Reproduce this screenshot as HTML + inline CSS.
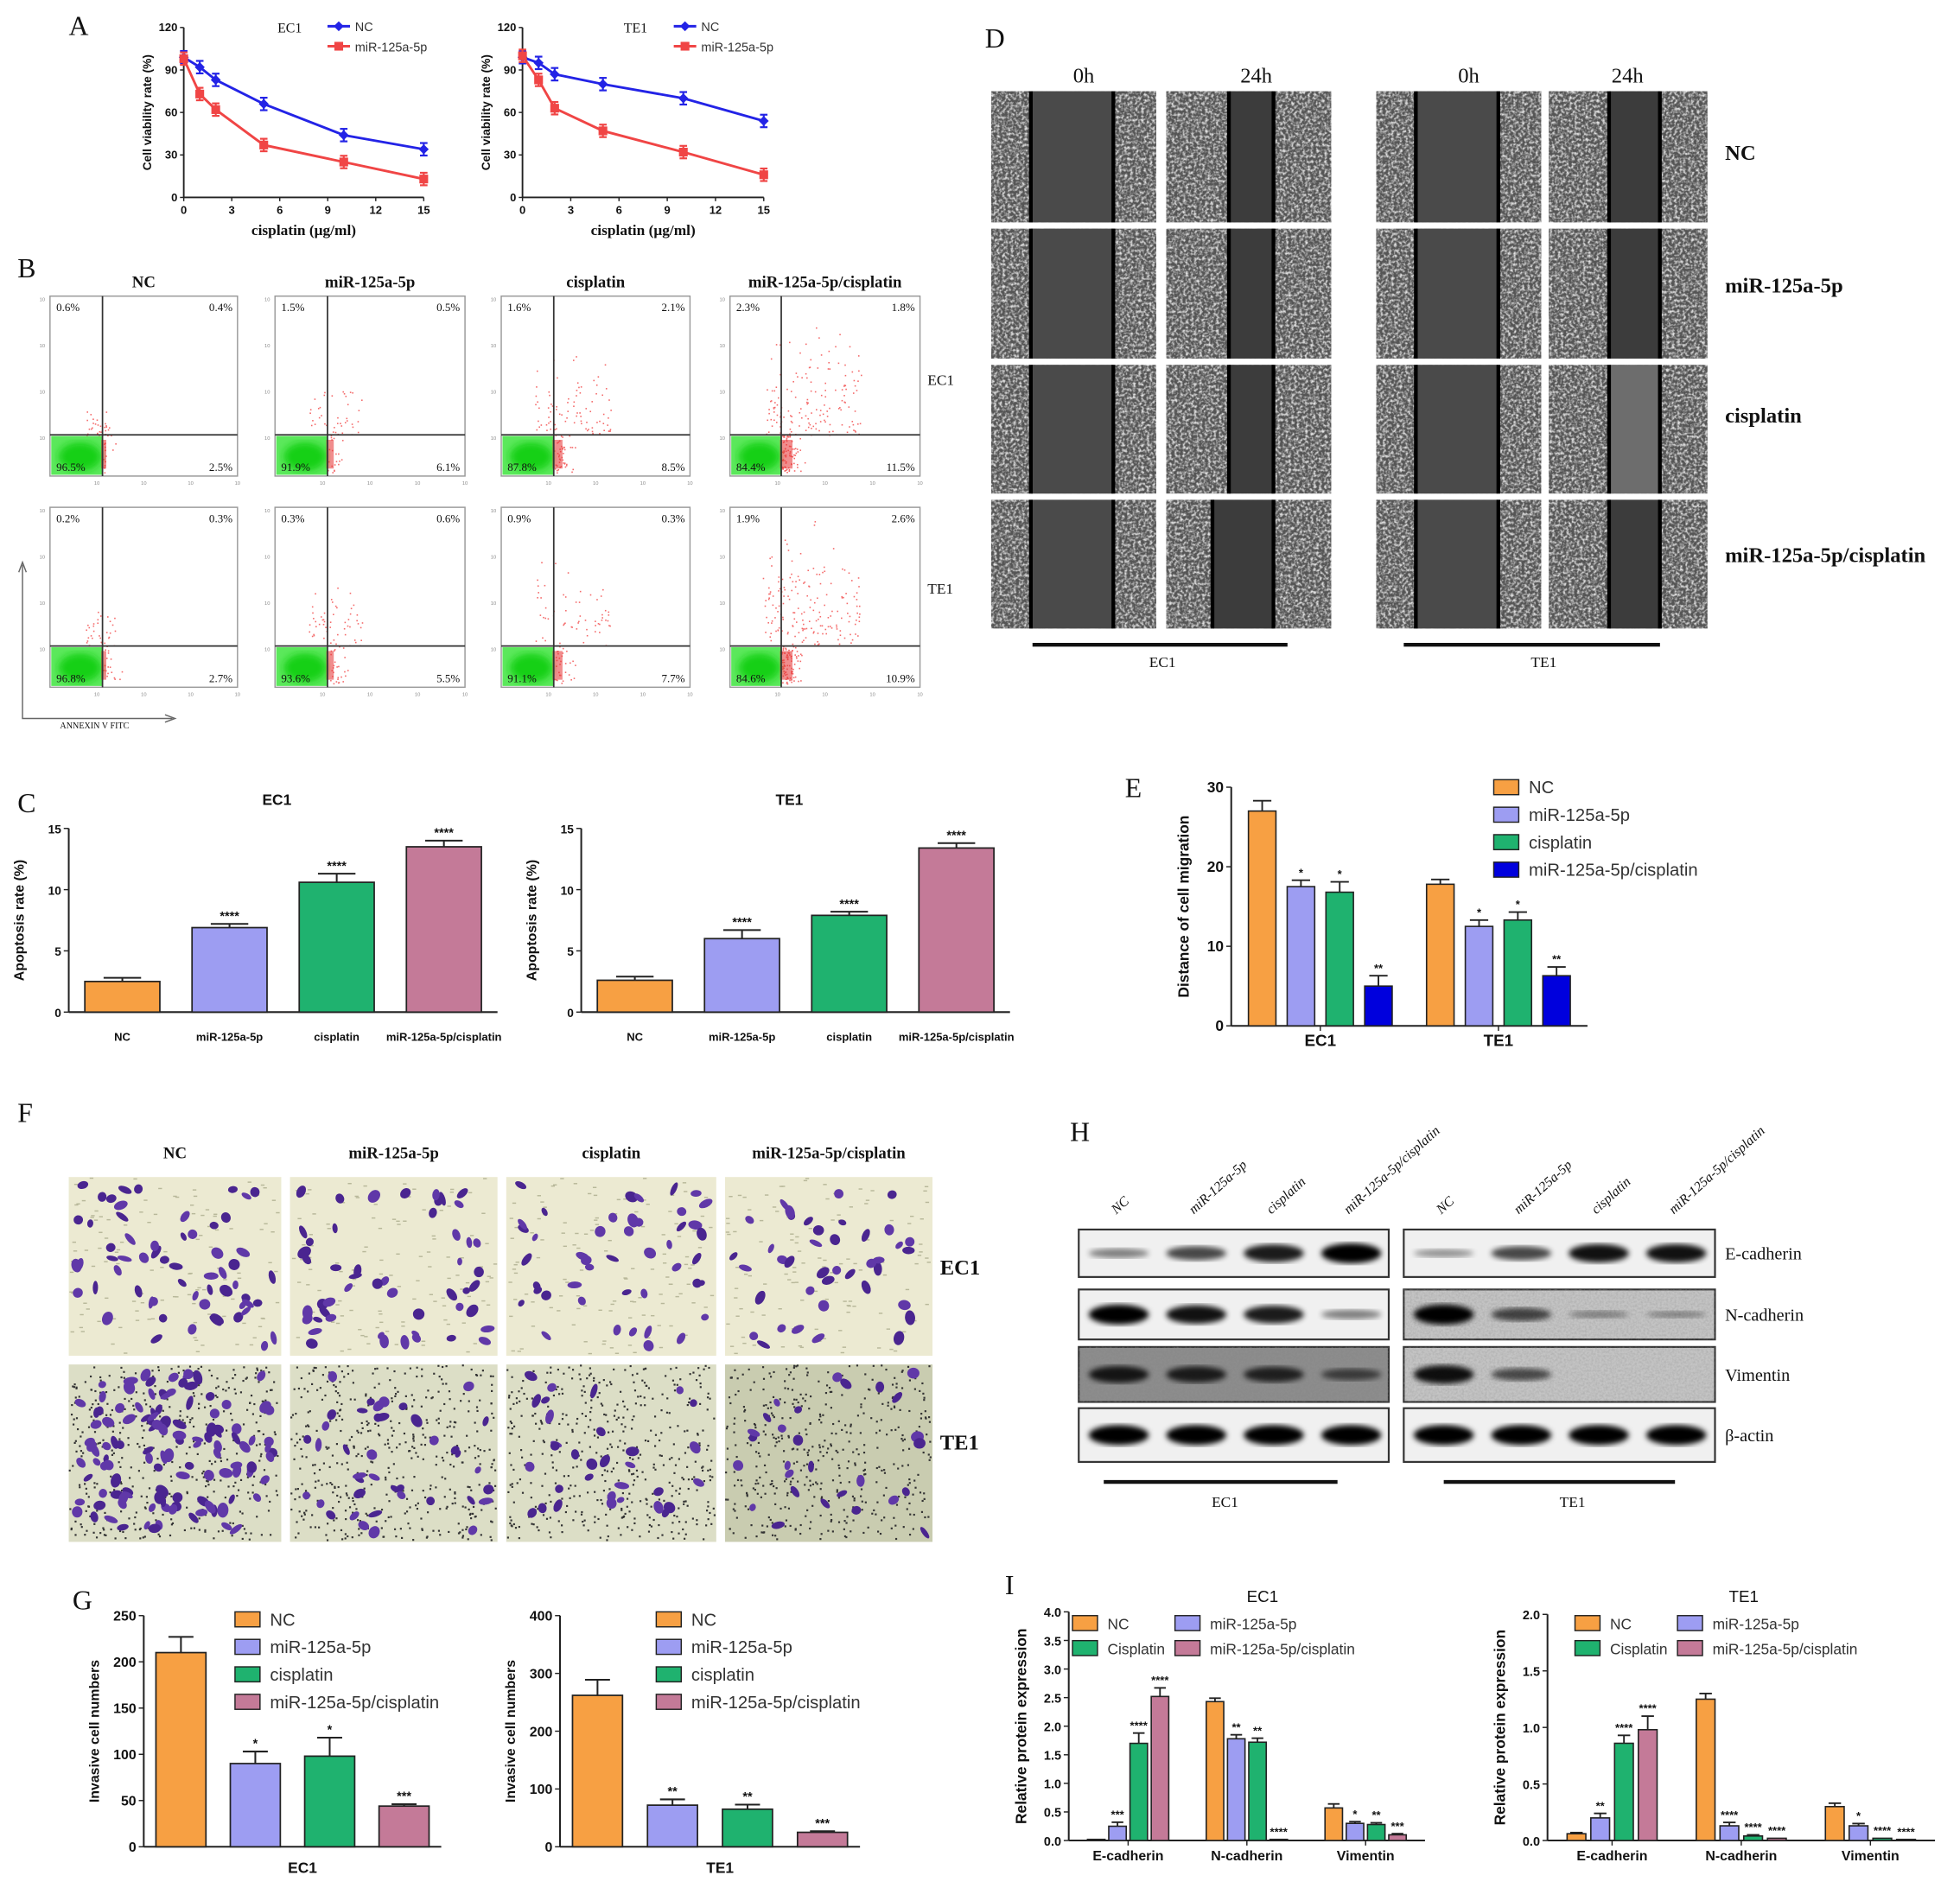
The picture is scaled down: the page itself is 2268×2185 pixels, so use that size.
<!DOCTYPE html>
<html><head><meta charset="utf-8">
<style>
html,body{margin:0;padding:0;background:#fff;}
svg{display:block;}
text{font-family:"Liberation Sans",sans-serif;}
.serif{font-family:"Liberation Serif",serif;}
</style></head>
<body>
<svg id="fig" xmlns="http://www.w3.org/2000/svg" width="2268" height="2185" viewBox="0 0 1568 1511" preserveAspectRatio="none">
<defs>
<filter id="scratchTex" x="0" y="0" width="100%" height="100%">
<feTurbulence type="fractalNoise" baseFrequency="0.45" numOctaves="2" seed="3"/>
<feColorMatrix type="matrix" values="0 0 0 0 0.75  0 0 0 0 0.75  0 0 0 0 0.75  0 0 -2.6 0 1.55"/>
</filter>
<filter id="blotNoise" x="0" y="0" width="100%" height="100%">
<feTurbulence type="fractalNoise" baseFrequency="0.6" numOctaves="2" seed="7"/>
<feColorMatrix type="matrix" values="0 0 0 0 0.3  0 0 0 0 0.3  0 0 0 0 0.3  0 0 -1.5 0 1.0"/>
</filter>
<filter id="blur1"><feGaussianBlur stdDeviation="2.2"/></filter>
<filter id="blur2"><feGaussianBlur stdDeviation="3"/></filter>
</defs>
</svg>
<script>
// ---------- DATA ----------
const doseX = [0,1,2,5,10,15];
const aTicksX = [0,3,6,9,12,15];
const aTicksY = [0,30,60,90,120];
const ec1NC = [99,92,83,66,44,34];
const ec1Mir = [98,73,62,37,25,13];
const te1NC = [99,95,87,80,70,54];
const te1Mir = [100,83,63,47,32,16];

const groups4 = ['NC','miR-125a-5p','cisplatin','miR-125a-5p/cisplatin'];
const cEC1 = [2.5,6.9,10.6,13.5];
const cEC1err = [0.3,0.3,0.7,0.5];
const cTE1 = [2.6,6.0,7.9,13.4];
const cTE1err = [0.3,0.7,0.3,0.4];
const cTicks = [0,5,10,15];
const cStars = ['','****','****','****'];

const eCats = ['EC1','TE1'];
const eNC = [27,17.8];
const eMir = [17.5,12.5];
const eCis = [16.8,13.3];
const eCombo = [5,6.3];
const eErr = [[1.3,0.6],[0.8,0.8],[1.3,1.0],[1.3,1.1]];
const eStars = [['',''],['*','*'],['*','*'],['**','**']];
const eTicks = [0,10,20,30];

const gEC1 = [210,90,98,44];
const gEC1err = [17,13,20,2];
const gEC1stars = ['','*','*','***'];
const gEC1ticks = [0,50,100,150,200,250];
const gTE1 = [262,72,65,25];
const gTE1err = [27,10,8,2];
const gTE1stars = ['','**','**','***'];
const gTE1ticks = [0,100,200,300,400];

const iCats = ['E-cadherin','N-cadherin','Vimentin'];
const iEC1 = [[0.02,0.25,1.7,2.52],[2.43,1.78,1.72,0.02],[0.57,0.3,0.28,0.1]];
const iEC1err = [[0,0.07,0.18,0.15],[0.06,0.07,0.07,0],[0.07,0.03,0.03,0.02]];
const iEC1stars = [['','***','****','****'],['','**','**','****'],['','*','**','***']];
const iEC1ticks = [0,0.5,1.0,1.5,2.0,2.5,3.0,3.5,4.0];
const iTE1 = [[0.06,0.2,0.86,0.98],[1.25,0.13,0.04,0.02],[0.3,0.13,0.02,0.01]];
const iTE1err = [[0.01,0.04,0.07,0.12],[0.05,0.03,0.01,0],[0.03,0.02,0,0]];
const iTE1stars = [['','**','****','****'],['','****','****','****'],['','*','****','****']];
const iTE1ticks = [0,0.5,1.0,1.5,2.0];

const flowPct = [
 ['0.6%','0.4%','96.5%','2.5%'],['1.5%','0.5%','91.9%','6.1%'],['1.6%','2.1%','87.8%','8.5%'],['2.3%','1.8%','84.4%','11.5%'],
 ['0.2%','0.3%','96.8%','2.7%'],['0.3%','0.6%','93.6%','5.5%'],['0.9%','0.3%','91.1%','7.7%'],['1.9%','2.6%','84.6%','10.9%']];
const flowRed = [45,60,130,230,50,80,90,260];
const cellCounts = [60,50,45,40,120,40,32,28];

const COL = ['#F7A043','#9D9DF2','#1FB26F','#C47A98'];
const COLE = ['#F7A043','#9D9DF2','#1FB26F','#0000DD'];

// ---------- HELPERS ----------
const NS='http://www.w3.org/2000/svg';
const svg=document.getElementById('fig');
function mk(tag,attrs,parent){const e=document.createElementNS(NS,tag);for(const k in attrs)e.setAttribute(k,attrs[k]);(parent||svg).appendChild(e);return e;}
function txt(x,y,s,size,parent,extra){const e=mk('text',Object.assign({x:x,y:y,'font-size':size,fill:'#111'},extra||{}),parent);e.textContent=s;return e;}
let seed=12345;function rnd(){seed=(seed*1103515245+12345)%2147483648;return seed/2147483648;}
function gauss(){return (rnd()+rnd()+rnd()-1.5)/1.5;}

[['A',55,28],['B',14,222],['C',14,650],['D',788,38],['E',900,638],['F',14,898],['G',58,1288],['H',856,913],['I',804,1276]].forEach(p=>{
 const t=txt(p[1],p[2],p[0],22,svg,{class:'serif'});
 
 
});

// ---------- A: line charts ----------
function lineChart(name,x0,x1,y0,y1,title,tx,nc,mir){
 const g=mk('g',{});
 
 
 const sx=v=>x0+v/15*(x1-x0), sy=v=>y0-v/120*(y0-y1);
 mk('line',{x1:x0,y1:y1,x2:x0,y2:y0,stroke:'#222','stroke-width':1.3},g);
 mk('line',{x1:x0,y1:y0,x2:x1,y2:y0,stroke:'#222','stroke-width':1.3},g);
 aTicksY.forEach(v=>{mk('line',{x1:x0-3,y1:sy(v),x2:x0,y2:sy(v),stroke:'#222'},g);txt(x0-5,sy(v)+3,v,9,g,{'text-anchor':'end','font-weight':'bold'});});
 aTicksX.forEach(v=>{mk('line',{x1:sx(v),y1:y0,x2:sx(v),y2:y0+3,stroke:'#222'},g);txt(sx(v),y0+13,v,9,g,{'text-anchor':'middle','font-weight':'bold'});});
 const yl=txt(x0-26,(y0+y1)/2,'Cell viability rate (%)',9.5,g,{'text-anchor':'middle','font-weight':'bold',transform:`rotate(-90 ${x0-26} ${(y0+y1)/2})`});
 
 
 const xl=txt((x0+x1)/2,y0+30,'cisplatin (μg/ml)',12,g,{'text-anchor':'middle','font-weight':'bold',class:'serif'});
 
 
 txt(tx,y1+4,title,11,g,{class:'serif'});
 [[nc,'#2323E6','NC'],[mir,'#F04545','miR-125a-5p']].forEach((s,si)=>{
  const vals=s[0];
  const pts=doseX.map((d,i)=>sx(d)+','+sy(vals[i])).join(' ');
  const pl=mk('polyline',{points:pts,fill:'none',stroke:s[1],'stroke-width':2},g);
  
  
  doseX.forEach((d,i)=>{
   const x=sx(d),y=sy(vals[i]);
   mk('line',{x1:x,y1:y-5,x2:x,y2:y+5,stroke:s[1],'stroke-width':1.5},g);
   mk('line',{x1:x-3,y1:y-5,x2:x+3,y2:y-5,stroke:s[1],'stroke-width':1.5},g);
   mk('line',{x1:x-3,y1:y+5,x2:x+3,y2:y+5,stroke:s[1],'stroke-width':1.5},g);
   const m=si==0?mk('polygon',{points:`${x},${y-4} ${x+4},${y} ${x},${y+4} ${x-4},${y}`,fill:s[1]},g):mk('rect',{x:x-3.5,y:y-3.5,width:7,height:7,fill:s[1]},g);
   
   
  });
  const lx=tx+40, ly=y1+2+si*16;
  mk('line',{x1:lx,y1:ly-3,x2:lx+18,y2:ly-3,stroke:s[1],'stroke-width':2},g);
  if(si==0)mk('polygon',{points:`${lx+9},${ly-7} ${lx+13},${ly-3} ${lx+9},${ly+1} ${lx+5},${ly-3}`,fill:s[1]},g);else mk('rect',{x:lx+5.5,y:ly-6.5,width:7,height:7,fill:s[1]},g);
  const le=txt(lx+22,ly+1,s[2],10,g,{fill:'#333'});
  
  
 });
}
lineChart('chart-a-ec1',147,339,158,22,'EC1',222,ec1NC,ec1Mir);
lineChart('chart-a-te1',418,611,158,22,'TE1',499,te1NC,te1Mir);

// ---------- B: flow cytometry ----------
const fcols=[[40,190,82],[220,372,262],[401,552,443],[584,736,625]];
const frows=[[237,381,348],[406,550,517]];
const titlesB=['NC','miR-125a-5p','cisplatin','miR-125a-5p/cisplatin'];
titlesB.forEach((t,i)=>{const e=txt((fcols[i][0]+fcols[i][1])/2,230,t,13,svg,{'text-anchor':'middle','font-weight':'bold',class:'serif'});
 
 });
frows.forEach((r,ri)=>{fcols.forEach((c,ci)=>{
 const k=ri*4+ci;
 const g=mk('g',{});
 
 
 mk('rect',{x:c[0],y:r[0],width:c[1]-c[0],height:r[1]-r[0],fill:'#fff',stroke:'#999','stroke-width':1},g);
 for(let j=0;j<flowRed[k];j++){
  let x,y;
  if(j%3==0){x=c[2]+Math.abs(gauss())*22;y=r[2]+rnd()*30;}
  else{x=c[2]-15+rnd()*(25+ci*18);y=r[2]-Math.abs(gauss())*(25+ci*25+ri*15);}
  if(x<c[1]-2&&y>r[0]+2&&y<r[1]-2)mk('rect',{x:x,y:y,width:1.1,height:1.1,fill:'#F46a6a'},g);
 }
 mk('rect',{x:c[0]+1,y:r[2]+1,width:c[2]-c[0]-1,height:r[1]-r[2]-2,fill:'#5BE85B'},g);
 mk('ellipse',{cx:(c[0]+c[2])/2+3,cy:(r[2]+r[1])/2+1,rx:(c[2]-c[0])/2-4,ry:(r[1]-r[2])/2-5,fill:'#18D018',filter:'url(#blur2)'},g);
 mk('rect',{x:c[2]-1,y:r[2]+4,width:4+ci*2,height:r[1]-r[2]-10,fill:'#E53030',opacity:0.55},g);
 mk('line',{x1:c[2],y1:r[0],x2:c[2],y2:r[1],stroke:'#333','stroke-width':1.2},g);
 mk('line',{x1:c[0],y1:r[2],x2:c[1],y2:r[2],stroke:'#333','stroke-width':1.2},g);
 const p=flowPct[k];
 txt(c[0]+5,r[0]+12,p[0],9,g,{class:'serif'});
 txt(c[1]-4,r[0]+12,p[1],9,g,{class:'serif','text-anchor':'end'});
 txt(c[0]+5,r[1]-4,p[2],9,g,{class:'serif'});
 txt(c[1]-4,r[1]-4,p[3],9,g,{class:'serif','text-anchor':'end'});
 for(let t=0;t<4;t++)txt(c[0]-4,r[0]+4+t*(r[2]-r[0])/3,'10',4,g,{'text-anchor':'end',fill:'#888'});
 for(let t=1;t<5;t++)txt(c[0]+t*(c[1]-c[0])/4,r[1]+7,'10',4,g,{'text-anchor':'middle',fill:'#888'});
});});
[['EC1',308],['TE1',475]].forEach(l=>{const e=txt(742,l[1],l[0],12,svg,{class:'serif'});
 
 });
mk('polyline',{points:'18,452 18,575 138,575',fill:'none',stroke:'#666','stroke-width':1});
mk('polyline',{points:'15,458 18,450 21,458',fill:'none',stroke:'#666'});
mk('polyline',{points:'132,572 140,575 132,578',fill:'none',stroke:'#666'});
txt(48,583,'ANNEXIN V FITC',7,svg,{class:'serif'});

// ---------- bar chart helper ----------
function barChart(name,x0,x1,y0,y1,vmax,ticks,vals,errs,stars,cats,cols,bw,yTitle,fmt,fs){
 const g=mk('g',{});
 
 
 const sy=v=>y0-v/vmax*(y0-y1);
 const band=(x1-x0)/vals.length;
 mk('line',{x1:x0,y1:y1,x2:x0,y2:y0,stroke:'#222','stroke-width':1.4},g);
 mk('line',{x1:x0,y1:y0,x2:x1,y2:y0,stroke:'#222','stroke-width':1.4},g);
 ticks.forEach(v=>{mk('line',{x1:x0-4,y1:sy(v),x2:x0,y2:sy(v),stroke:'#222'},g);txt(x0-6,sy(v)+4,fmt(v),fs,g,{'text-anchor':'end','font-weight':'bold'});});
 vals.forEach((v,i)=>{
  const cx=x0+(i+0.5)*band;
  const e=errs[i];
  mk('line',{x1:cx,y1:sy(v+e),x2:cx,y2:sy(v),stroke:'#222','stroke-width':1.4},g);
  mk('line',{x1:cx-bw/4,y1:sy(v+e),x2:cx+bw/4,y2:sy(v+e),stroke:'#222','stroke-width':1.4},g);
  const b=mk('rect',{x:cx-bw/2,y:sy(v),width:bw,height:y0-sy(v),fill:cols[i],stroke:'#222','stroke-width':1.2},g);
  
  
  if(stars[i])txt(cx,sy(v+e)-3,stars[i],10,g,{'text-anchor':'middle','font-weight':'bold'});
 });
 const yl=txt(x0-36,(y0+y1)/2,yTitle,11,g,{'text-anchor':'middle','font-weight':'bold',transform:`rotate(-90 ${x0-36} ${(y0+y1)/2})`});
 
 
 return {g,band};
}

// ---------- C ----------
function cPanel(name,x0,x1,vals,errs,title){
 const r=barChart(name,x0,x1,810,663,15,cTicks,vals,errs,cStars,groups4,COL,60,'Apoptosis rate (%)',v=>v,9.5);
 groups4.forEach((c,i)=>txt(x0+(i+0.5)*r.band,833,c,9,r.g,{'text-anchor':'middle','font-weight':'bold'}));
 txt((x0+x1)/2-5,644,title,12,r.g,{'text-anchor':'middle','font-weight':'bold'});
}
cPanel('chart-c-ec1',55,398,cEC1,cEC1err,'EC1');
cPanel('chart-c-te1',465,808,cTE1,cTE1err,'TE1');

// ---------- grouped bar helper ----------
function grouped(name,x0,x1,y0,y1,vmax,ticks,series,errs,stars,cats,cols,bw,step,yTitle,fmt,fs,catFs){
 const g=mk('g',{});
 
 
 const sy=v=>y0-v/vmax*(y0-y1);
 const band=(x1-x0)/cats.length;
 mk('line',{x1:x0,y1:y1,x2:x0,y2:y0,stroke:'#222','stroke-width':1.4},g);
 mk('line',{x1:x0,y1:y0,x2:x1,y2:y0,stroke:'#222','stroke-width':1.4},g);
 ticks.forEach(v=>{mk('line',{x1:x0-4,y1:sy(v),x2:x0,y2:sy(v),stroke:'#222'},g);txt(x0-6,sy(v)+4,fmt(v),fs,g,{'text-anchor':'end','font-weight':'bold'});});
 cats.forEach((c,ci)=>{
  const gc=x0+(ci+0.5)*band;
  mk('line',{x1:gc,y1:y0,x2:gc,y2:y0+4,stroke:'#222'},g);
  txt(gc,y0+16,c,catFs,g,{'text-anchor':'middle','font-weight':'bold'});
  for(let s=0;s<4;s++){
   const v=series(ci,s),e=errs(ci,s),cx=gc+(s-1.5)*step;
   if(e>0){mk('line',{x1:cx,y1:sy(v+e),x2:cx,y2:sy(v),stroke:'#222','stroke-width':1.3},g);
   mk('line',{x1:cx-bw/3,y1:sy(v+e),x2:cx+bw/3,y2:sy(v+e),stroke:'#222','stroke-width':1.3},g);}
   const b=mk('rect',{x:cx-bw/2,y:sy(v),width:bw,height:Math.max(0.5,y0-sy(v)),fill:cols[s],stroke:'#222','stroke-width':1.1},g);
   
   
   const st=stars(ci,s); if(st)txt(cx,sy(v+e)-3,st,9,g,{'text-anchor':'middle','font-weight':'bold'});
  }
 });
 const yl=txt(x0-34,(y0+y1)/2,yTitle,12,g,{'text-anchor':'middle','font-weight':'bold',transform:`rotate(-90 ${x0-34} ${(y0+y1)/2})`});
 
 
 return g;
}
function legend(name,x,y,labels,cols,dy,fs,cols2){
 const g=mk('g',{});
 
 
 labels.forEach((l,i)=>{
  const xx=x+(cols2?(i%2)*cols2:0), yy=y+(cols2?Math.floor(i/2):i)*dy;
  mk('rect',{x:xx,y:yy-9,width:20,height:12,fill:cols[i],stroke:'#222'},g);
  const t=txt(xx+28,yy+2,l,fs,g,{fill:'#333'});
  
  
 });
}

// ---------- E ----------
const eSeries=[eNC,eMir,eCis,eCombo];
grouped('chart-e',985,1270,821,630,30,eTicks,(c,s)=>eSeries[s][c],(c,s)=>eErr[s][c],(c,s)=>eStars[s][c],eCats,COLE,22,31,'Distance of cell migration',v=>v,12,13);
legend('legend-e',1195,633,groups4,COLE,22,14);

// ---------- G ----------
function gPanel(name,x0,x1,vmax,ticks,vals,errs,stars,title,lx){
 const r=barChart(name,x0,x1,1478,1293,vmax,ticks,vals,errs,stars,groups4,COL,40,'Invasive cell numbers',v=>v,11);
 txt((x0+x1)/2+8,1499,title,12,r.g,{'text-anchor':'middle','font-weight':'bold'});
 legend(name+'-legend',lx,1299,groups4,COL,22,14);
}
gPanel('chart-g-ec1',115,353,250,gEC1ticks,gEC1,gEC1err,gEC1stars,'EC1',188);
gPanel('chart-g-te1',448,688,400,gTE1ticks,gTE1,gTE1err,gTE1stars,'TE1',525);

// ---------- I ----------
const iLeg=['NC','miR-125a-5p','Cisplatin','miR-125a-5p/cisplatin'];
grouped('chart-i-ec1',855,1140,1473,1290,4,iEC1ticks,(c,s)=>iEC1[c][s],(c,s)=>iEC1err[c][s],(c,s)=>iEC1stars[c][s],iCats,COL,14,17,'Relative protein expression',v=>v.toFixed(1),10,11);
txt(1010,1282,'EC1',13,svg,{'text-anchor':'middle'});
legend('legend-i-ec1',858,1302,iLeg,COL,20,12,82);
grouped('chart-i-te1',1238,1548,1473,1292,2,iTE1ticks,(c,s)=>iTE1[c][s],(c,s)=>iTE1err[c][s],(c,s)=>iTE1stars[c][s],iCats,COL,15,19,'Relative protein expression',v=>v.toFixed(1),10,11);
txt(1395,1282,'TE1',13,svg,{'text-anchor':'middle'});
legend('legend-i-te1',1260,1302,iLeg,COL,20,12,82);

// ---------- D: scratch assay ----------
const dCols=[[793,925,0],[933,1065,1],[1101,1233,0],[1239,1366,1]];
const dRows=[[73,178],[183,287],[292,395],[400,503]];
[['0h',867],['24h',1005],['0h',1175],['24h',1302]].forEach(h=>{const e=txt(h[1],66,h[0],17,svg,{'text-anchor':'middle',class:'serif'});
 
 });
dRows.forEach((r,ri)=>dCols.forEach((c,ci)=>{
 const g=mk('g',{});
 
 
 const w=c[1]-c[0],h=r[1]-r[0];
 mk('rect',{x:c[0],y:r[0],width:w,height:h,fill:'#555'},g);
 mk('rect',{x:c[0],y:r[0],width:w,height:h,filter:'url(#scratchTex)'},g);
 let gl,gr;
 if(c[2]==0){gl=c[0]+w*0.24;gr=c[0]+w*0.74;}else{gl=c[0]+w*(0.38-(ri==3&&ci==1?0.1:0));gr=c[0]+w*(0.65+(ci==3?0.05:0));}
 const fill=(ri==2&&ci==3)?'#6d6d6d':(c[2]==0?'#4a4a4a':'#3c3c3c');
 mk('rect',{x:gl,y:r[0],width:gr-gl,height:h,fill:fill},g);
 mk('line',{x1:gl,y1:r[0],x2:gl,y2:r[1],stroke:'#000','stroke-width':3},g);
 mk('line',{x1:gr,y1:r[0],x2:gr,y2:r[1],stroke:'#000','stroke-width':3},g);
}));
[['NC',128],['miR-125a-5p',234],['cisplatin',338],['miR-125a-5p/cisplatin',450]].forEach(l=>{const e=txt(1380,l[1],l[0],17,svg,{'font-weight':'bold',class:'serif'});
 
 });
mk('line',{x1:826,y1:516,x2:1030,y2:516,stroke:'#111','stroke-width':3});
mk('line',{x1:1123,y1:516,x2:1328,y2:516,stroke:'#111','stroke-width':3});
txt(930,534,'EC1',12,svg,{'text-anchor':'middle',class:'serif'});
txt(1235,534,'TE1',12,svg,{'text-anchor':'middle',class:'serif'});

// ---------- F: transwell ----------
const fCols=[[55,225],[232,398],[405,573],[580,746]];
const fRows=[[942,1085],[1092,1234]];
titlesB.forEach((t,i)=>{const e=txt((fCols[i][0]+fCols[i][1])/2,927,t,13,svg,{'text-anchor':'middle','font-weight':'bold',class:'serif'});
 
 });
fRows.forEach((r,ri)=>fCols.forEach((c,ci)=>{
 const k=ri*4+ci;
 const g=mk('g',{});
 
 
 const w=c[1]-c[0],h=r[1]-r[0];
 mk('rect',{x:c[0],y:r[0],width:w,height:h,fill:ri==0?'#ECEAD2':(ci==3?'#C9CCB0':'#DCDEC6')},g);
 if(ri==0)for(let j=0;j<120;j++)mk('rect',{x:c[0]+rnd()*(w-3),y:r[0]+rnd()*(h-2),width:3,height:1,fill:'#b8b89a'},g);
 if(ri==1)for(let j=0;j<450;j++)mk('rect',{x:c[0]+rnd()*(w-2),y:r[0]+rnd()*(h-2),width:1.5,height:1.5,fill:'#333'},g);
 for(let j=0;j<cellCounts[k];j++){
  const x=c[0]+6+rnd()*(w-12),y=r[0]+6+rnd()*(h-12);
  mk('ellipse',{cx:x,cy:y,rx:3+rnd()*3,ry:2+rnd()*2.5,fill:rnd()<0.5?'#4A2590':'#6038A8',transform:`rotate(${rnd()*180} ${x} ${y})`},g);
 }
}));
[['EC1',1020],['TE1',1160]].forEach(l=>{const e=txt(752,l[1],l[0],17,svg,{'font-weight':'bold',class:'serif'});
 
 });

// ---------- H: western blot ----------
const hBoxes=[[863,1111],[1123,1372]];
const hRows=[[984,1022],[1032,1072],[1078,1122],[1127,1170]];
const hLabels=['E-cadherin','N-cadherin','Vimentin','β-actin'];
const bandI=[[[0.3,0.6,0.85,1],[0.2,0.6,0.9,0.9]],[[1,0.9,0.85,0.3],[1,0.55,0.15,0.12]],[[0.8,0.75,0.7,0.45],[0.9,0.5,0,0]],[[1,1,1,1],[1,1,1,1]]];
hBoxes.forEach((b,bi)=>{
 ['NC','miR-125a-5p','cisplatin','miR-125a-5p/cisplatin'].forEach((l,li)=>{
  const x=b[0]+30+li*62, y=972;
  const t=txt(x,y,l,11,svg,{class:'serif',transform:`rotate(-42 ${x} ${y})`,'font-style':'italic'});
  
  
 });
 hRows.forEach((r,ri)=>{
  const g=mk('g',{});
  
  
  const bg=(ri==2&&bi==0)?'#8a8a8a':((ri==1||ri==2)&&bi==1?'#c4c4c4':'#f0f0f0');
  mk('rect',{x:b[0],y:r[0],width:b[1]-b[0],height:r[1]-r[0],fill:bg,stroke:'#333','stroke-width':1.5},g);
  if(bg!='#f0f0f0')mk('rect',{x:b[0],y:r[0],width:b[1]-b[0],height:r[1]-r[0],filter:'url(#blotNoise)',opacity:0.5},g);
  for(let li=0;li<4;li++){
   const v=bandI[ri][bi][li]; if(v<=0)continue;
   const cx=b[0]+32+li*62, cy=(r[0]+r[1])/2;
   mk('ellipse',{cx:cx,cy:cy,rx:24,ry:2+v*6,fill:'#000',opacity:0.25+v*0.75,filter:'url(#blur1)'},g);
  }
 });
});
hLabels.forEach((l,i)=>{const e=txt(1380,(hRows[i][0]+hRows[i][1])/2+5,l,14,svg,{class:'serif'});
 
 });
mk('line',{x1:883,y1:1186,x2:1070,y2:1186,stroke:'#111','stroke-width':3});
mk('line',{x1:1155,y1:1186,x2:1340,y2:1186,stroke:'#111','stroke-width':3});
txt(980,1206,'EC1',12,svg,{'text-anchor':'middle',class:'serif'});
txt(1258,1206,'TE1',12,svg,{'text-anchor':'middle',class:'serif'});
</script>
</body></html>
